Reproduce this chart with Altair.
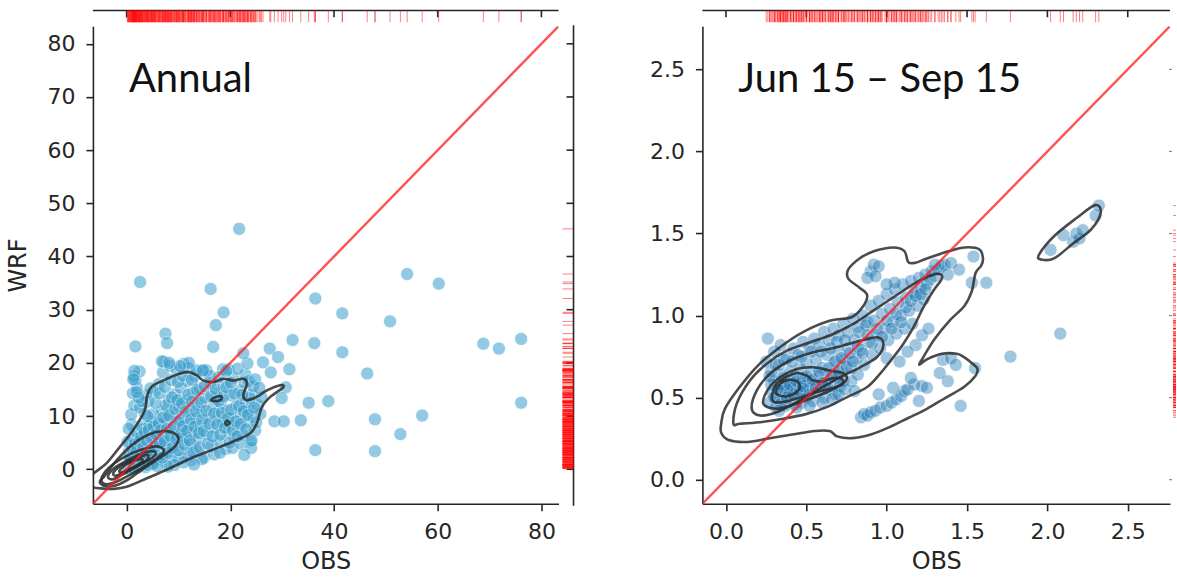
import altair as alt
import pandas as pd

# ---------------- data ----------------
annual_points = [
    (0.1,0.2),(0.3,0.8),(0.4,0.1),(0.6,1.5),(0.7,0.6),(0.9,0.3),(1.0,1.1),(1.1,2.2),(1.2,0.4),(1.4,1.8),
    (1.5,0.9),(1.6,2.9),(1.8,1.3),(1.9,0.5),(2.0,2.1),(2.1,3.6),(2.3,1.0),(2.4,2.7),(2.6,1.6),(2.7,4.3),
    (2.9,0.7),(3.0,3.2),(3.1,2.0),(3.3,1.2),(3.4,4.9),(3.6,2.6),(3.7,0.4),(3.9,3.8),(4.0,1.7),(4.2,5.6),
    (4.3,2.9),(4.5,0.9),(4.7,4.4),(4.8,2.2),(5.0,6.3),(5.1,3.3),(5.3,1.4),(5.5,5.1),(5.6,2.7),(5.8,7.0),
    (6.0,3.9),(6.1,1.9),(0.5,3.4),(0.8,4.6),(1.3,5.8),(1.7,7.1),(0.2,5.2),(1.0,8.4),(2.2,6.4),(2.8,8.0),
    (6.3,5.8),(6.5,8.9),(6.7,2.8),(6.9,11.0),(7.1,4.6),(7.3,6.9),(7.5,1.4),(7.7,9.4),(7.9,3.5),(8.1,12.8),
    (8.3,5.6),(8.5,7.8),(8.7,2.3),(8.9,10.6),(9.1,4.4),(9.3,14.1),(9.5,6.7),(9.7,8.9),(9.9,1.9),(10.1,11.9),
    (10.3,5.2),(10.5,15.3),(10.7,7.4),(10.9,3.1),(11.1,9.8),(11.3,13.0),(11.5,6.0),(11.7,16.6),(11.9,2.6),(12.1,8.5),
    (12.3,11.2),(12.5,4.7),(12.7,14.4),(12.9,7.0),(13.1,17.5),(13.3,9.6),(13.5,3.6),(13.7,12.2),(13.9,5.9),(14.1,15.2),
    (14.3,8.2),(14.6,10.8),(14.9,2.2),(15.2,13.5),(15.5,6.6),(15.8,9.3),(16.1,16.2),(16.4,4.4),(16.7,11.7),(17.0,7.7),
    (17.3,14.3),(17.6,10.0),(17.9,5.3),(18.2,12.5),(18.5,8.8),(18.8,15.6),(19.1,3.8),(19.4,11.0),(19.7,6.9),(20.0,13.9),
    (20.3,9.5),(20.6,17.2),(20.9,5.8),(21.2,12.0),(21.5,8.0),(21.8,14.8),(22.1,10.4),(22.4,6.5),(22.7,16.3),(23.0,12.6),
    (23.3,8.9),(23.6,11.3),(23.9,5.2),(24.2,14.0),(24.5,9.8),(24.8,7.3),(25.3,12.1),(25.8,10.4),(0.9,10.3),(1.5,12.0),
    (1.2,14.3),(2.0,15.3),(1.7,16.8),(2.5,18.4),(1.4,17.5),(3.5,10.5),(4.1,12.7),(4.9,9.0),(5.4,14.6),(6.2,16.0),
    (7.0,18.2),(7.2,20.2),(6.8,20.3),(8.4,19.5),(9.6,18.8),(11.0,19.8),(12.0,19.0),(14.8,18.5),(15.4,18.6),(18.6,18.8),
    (22.9,17.8),(23.5,16.6),(23.8,13.4),(24.4,15.6),(3.2,7.6),(4.4,8.2),(5.2,10.4),(0.4,7.6),(2.6,11.6),(3.8,13.9),
    (12.4,1.7),(11.0,1.3),(9.2,0.8),(8.0,0.5),(14.5,1.9),(16.9,2.8),(18.0,3.1),(20.4,4.0),(22.0,4.8),(24.0,4.0),
    (13.0,0.9),
    (0.5,2.4),(0.8,1.9),(1.1,3.9),(1.3,0.2),(1.6,4.8),(1.9,3.3),(2.2,0.3),(2.4,5.2),(2.6,2.3),(2.8,6.1),
    (3.0,1.5),(3.2,4.1),(3.5,6.9),(3.7,3.0),(3.9,5.4),(4.1,0.8),(4.3,7.4),(4.6,3.6),(4.8,5.9),(5.0,1.0),
    (5.2,8.1),(5.4,4.2),(5.7,6.6),(5.9,0.6),(6.2,8.6),(6.4,4.9),(6.6,7.3),(6.9,2.2),(7.1,9.7),(7.4,5.3),
    (7.6,12.0),(7.8,7.6),(8.0,3.1),(8.2,10.1),(8.5,6.2),(8.7,13.5),(8.9,4.0),(9.1,8.0),(9.4,11.3),(9.6,5.7),
    (9.8,13.0),(10.0,3.6),(10.2,9.2),(10.5,6.5),(10.7,12.4),(10.9,8.1),(11.2,4.6),(11.4,10.9),(11.7,7.2),(11.9,14.0),
    (12.2,5.4),(12.4,9.4),(12.6,12.7),(12.9,3.2),(13.1,8.0),(13.4,10.9),(13.6,14.9),(13.9,6.8),(14.1,4.1),(14.4,12.6),
    (14.6,9.3),(14.9,7.2),(15.1,15.6),(15.4,11.0),(15.7,4.8),(16.0,8.6),(16.3,13.7),(16.6,6.2),(16.9,10.5),(17.2,15.1),
    (17.5,8.4),(17.8,12.8),(18.1,6.5),(18.4,10.6),(18.7,13.7),(19.0,7.8),(19.3,15.4),(19.6,9.6),(19.9,5.0),(20.2,11.2),
    (20.5,7.3),(20.8,14.2),(21.1,9.0),(21.4,6.2),(21.7,11.9),(22.0,8.5),(22.3,14.0),(22.6,10.9),(23.1,7.5),(23.4,10.2),
    (24.6,11.6),(25.0,8.8),(26.0,13.5),(4.0,10.0),(3.0,12.8),(2.3,13.5),(4.6,15.2),(5.6,12.5),(6.4,14.3),(7.4,15.5),
    (8.6,16.8),(9.9,16.4),(10.8,17.6),(12.6,16.8),(13.5,18.6),(16.0,17.6),(17.7,17.3),(20.1,16.3),(19.6,18.8),(21.4,18.9),
    (23.3,19.9),(24.8,16.9),(25.6,15.3),
    (21.7,45.2),(2.6,35.2),(16.2,33.9),(18.7,29.5),(17.2,27.1),(7.5,25.5),(7.8,23.7),(1.7,23.1),(16.7,23.0),(36.4,32.1),
    (54.1,36.7),(60.2,34.9),(41.6,29.3),(50.8,27.8),(32.0,24.3),(36.2,23.7),(27.6,22.7),(41.6,22.0),(68.8,23.6),(71.8,22.7),
    (76.1,24.5),(76.1,12.5),(46.4,18.0),(57.0,10.1),(52.8,6.6),(47.9,9.4),(47.9,3.4),(36.4,3.6),(38.9,12.8),(35.1,12.5),
    (33.6,9.2),(31.4,18.8),(29.2,21.1),(26.3,20.1),(27.8,18.2),(30.7,15.4),(29.9,13.4),(28.5,9.0),(30.3,9.0),(22.7,2.7),
    (24.1,5.4),(22.5,21.8),(1.5,18.5),(1.3,16.9),(1.9,14.5),(14.7,18.6),(19.2,18.5),(12.0,20.0),(10.3,19.4),(8.2,20.0),
]

summer_points = [
    (0.27,0.47),(0.29,0.53),(0.30,0.60),(0.31,0.44),(0.32,0.50),(0.33,0.57),(0.34,0.64),(0.35,0.48),(0.35,0.54),(0.36,0.58),
    (0.37,0.45),(0.37,0.52),(0.38,0.61),(0.39,0.56),(0.40,0.49),(0.40,0.66),(0.41,0.53),(0.42,0.59),(0.43,0.46),(0.43,0.63),
    (0.44,0.55),(0.45,0.51),(0.46,0.68),(0.46,0.58),(0.47,0.47),(0.48,0.62),(0.49,0.54),(0.50,0.71),(0.50,0.50),(0.51,0.60),
    (0.52,0.56),(0.53,0.66),(0.54,0.48),(0.55,0.58),(0.56,0.73),(0.57,0.53),(0.58,0.63),(0.59,0.57),(0.60,0.68),(0.61,0.50),
    (0.62,0.61),(0.63,0.76),(0.64,0.55),(0.65,0.64),(0.66,0.59),(0.67,0.71),(0.68,0.52),(0.69,0.62),(0.70,0.78),(0.71,0.57),
    (0.72,0.66),(0.73,0.60),(0.74,0.73),(0.36,0.56),(0.38,0.55),(0.34,0.58),
    (0.26,0.86),(0.30,0.78),(0.34,0.82),(0.38,0.74),(0.42,0.80),(0.45,0.76),(0.48,0.84),(0.52,0.80),(0.55,0.86),(0.58,0.82),
    (0.61,0.90),(0.64,0.85),(0.67,0.92),(0.70,0.88),(0.73,0.95),(0.76,0.90),(0.79,0.98),(0.82,0.93),(0.85,1.00),(0.88,0.96),
    (0.33,0.70),(0.28,0.66),(0.25,0.72),
    (0.76,0.80),(0.78,0.68),(0.80,0.85),(0.81,0.74),(0.83,0.90),(0.84,0.79),(0.86,0.70),(0.87,0.94),(0.89,0.84),(0.90,1.06),
    (0.91,0.76),(0.92,0.97),(0.94,0.88),(0.95,1.09),(0.96,0.80),(0.97,1.01),(0.99,0.92),(1.00,1.13),(1.01,0.85),(1.02,1.04),
    (1.04,0.96),(1.05,1.16),(1.06,0.89),(1.07,1.08),(1.09,1.00),(1.10,1.19),(1.11,0.92),(1.12,1.11),(1.14,1.03),(1.15,1.21),
    (1.16,0.95),(1.17,1.14),(1.19,1.06),(1.20,1.23),(1.21,1.17),(1.23,1.10),(1.24,1.25),(1.25,1.19),(1.27,1.22),(1.28,1.27),
    (1.30,1.24),(1.32,1.28),(1.34,1.30),(1.36,1.31),(1.38,1.25),(1.18,0.82),(1.22,0.88),(1.13,0.78),(1.08,0.72),(1.26,0.92),
    (1.00,0.74),
    (0.30,0.50),(0.32,0.55),(0.34,0.46),(0.36,0.62),(0.38,0.50),(0.40,0.58),(0.42,0.52),(0.44,0.60),(0.46,0.54),(0.48,0.57),
    (0.50,0.63),(0.52,0.52),(0.54,0.61),(0.56,0.56),(0.58,0.66),(0.60,0.59),(0.62,0.56),(0.64,0.68),(0.66,0.63),(0.68,0.72),
    (0.70,0.66),(0.72,0.74),(0.75,0.69),(0.77,0.77),(0.79,0.72),(0.82,0.81),(0.85,0.77),(0.88,0.88),(0.91,0.83),(0.94,0.92),
    (0.97,0.87),(1.00,0.97),(1.03,0.92),(1.06,1.01),(1.09,0.96),(1.12,1.05),(1.15,1.09),(1.18,1.12),(1.21,1.13),(1.24,1.16),
    (0.31,0.70),(0.36,0.73),(0.41,0.72),(0.47,0.75),(0.53,0.78),(0.59,0.78),(0.65,0.80),(0.69,0.84),(0.74,0.85),(0.28,0.58),
    (0.27,0.63),(0.33,0.42),(0.44,0.44),(0.52,0.45),(0.60,0.47),(0.66,0.49),(0.70,0.52),(0.74,0.55),(0.78,0.60),(0.82,0.64),
    (0.80,0.54),
    (0.90,1.27),(0.92,1.31),(0.95,1.30),(0.88,1.23),(0.93,1.24),(1.05,1.20),(1.00,1.19),
    (0.84,0.38),(0.86,0.40),(0.88,0.39),(0.90,0.41),(0.93,0.42),(0.96,0.44),(1.00,0.45),(1.03,0.47),(1.06,0.49),(1.09,0.51),
    (1.11,0.54),(1.13,0.55),(1.17,0.58),(1.20,0.48),(1.22,0.57),(1.25,0.56),(0.95,0.52),(1.04,0.56),(1.15,0.62),
    (1.35,0.73),(1.40,0.74),(1.38,0.60),(1.33,0.65),(1.46,0.45),(1.55,0.68),(1.43,0.70),(1.53,1.20),(1.62,1.20),(1.54,1.36),
    (1.77,0.75),(2.08,0.89),(1.40,1.32),(1.45,1.28),(1.30,1.31),
    (2.02,1.40),(2.10,1.49),(2.16,1.45),(2.18,1.50),(2.20,1.47),(2.30,1.61),(2.32,1.67),(2.22,1.52),
]

# density contour lines (OBS, WRF)
annual_contours = {
    "a1": [(-7.5,-2.0),(-6.4,-0.8),(-3.9,1.1),(-1.3,4.2),(1.3,7.4),(3.5,11.1),(3.9,13.6),(4.8,15.5),(7.1,16.7),
           (10.3,18.0),(11.9,18.3),(13.5,17.7),(14.8,16.7),(16.7,16.4),(18.6,17.0),(20.6,16.7),(22.5,17.0),(23.2,16.1),
           (22.5,13.9),(23.2,13.0),(25.1,13.6),(27.0,14.8),(29.6,15.8),(30.2,15.4),(27.7,13.6),(26.1,11.7),(25.1,8.6),
           (23.8,6.7),(21.2,5.5),(18.0,4.2),(14.8,3.0),(11.6,1.7),(7.7,-0.1),(3.9,-1.7),(0.0,-3.3),(-2.6,-3.7),(-5.0,-3.6),(-7.0,-3.2)],
    "a2": [(-5.2,-2.4),(-4.2,-1.2),(-1.9,1.7),(0.6,4.2),(3.9,6.4),(7.1,7.2),(9.3,6.7),(10.0,5.5),(9.0,4.0),(6.5,2.2),
           (3.5,0.3),(0.5,-1.8),(-2.0,-3.0),(-4.0,-3.2)],
    "a3": [(-4.8,-1.6),(-3.4,0.3),(-0.8,2.1),(2.6,3.6),(5.8,4.3),(7.2,3.5),(5.9,2.1),(3.2,0.4),(0.0,-1.4),(-2.6,-2.6),(-4.4,-2.7)],
    "a4": [(-3.6,-1.3),(-2.4,0.2),(0.0,1.6),(2.8,2.9),(5.0,3.4),(5.6,2.8),(4.2,1.7),(1.6,0.3),(-0.8,-1.0),(-2.8,-1.9)],
    "a5": [(-2.6,-0.8),(-1.4,0.5),(0.8,1.6),(3.0,2.5),(4.2,2.6),(3.8,1.7),(1.8,0.6),(-0.4,-0.5),(-2.0,-1.2)],
    "a6": [(-1.4,-0.3),(-0.4,0.7),(1.2,1.5),(2.8,2.0),(3.0,1.4),(1.8,0.6),(0.0,-0.2),(-1.0,-0.6)],
    "a7": [(16.3,13.0),(17.2,13.6),(18.3,13.7),(18.1,13.0),(17.0,12.8)],
    "a8": [(19.0,8.7),(19.4,9.1),(19.9,8.7),(19.4,8.3)],
}

summer_contours = {
    "s1": [(-0.030,0.342),(-0.007,0.432),(0.086,0.566),(0.203,0.700),(0.342,0.812),(0.482,0.901),(0.645,0.968),
           (0.784,0.991),(0.854,1.058),(0.878,1.125),(0.831,1.170),(0.761,1.225),(0.761,1.281),(0.831,1.348),
           (0.924,1.393),(1.040,1.415),(1.110,1.393),(1.134,1.326),(1.180,1.322),(1.250,1.348),(1.390,1.393),
           (1.483,1.415),(1.576,1.404),(1.599,1.348),(1.588,1.304),(1.553,1.259),(1.529,1.147),(1.483,1.058),
           (1.390,0.968),(1.297,0.856),(1.227,0.745),(1.203,0.700),(1.250,0.733),(1.343,0.767),(1.436,0.767),
           (1.483,0.745),(1.529,0.711),(1.564,0.678),(1.553,0.633),(1.483,0.566),(1.366,0.499),(1.250,0.432),
           (1.134,0.376),(1.017,0.320),(0.901,0.275),(0.784,0.253),(0.691,0.264),(0.645,0.297),(0.552,0.297),
           (0.412,0.275),(0.272,0.253),(0.133,0.230),(0.016,0.242),(-0.030,0.286)],
    "s2": [(0.046,0.341),(0.066,0.462),(0.149,0.604),(0.253,0.706),(0.378,0.786),(0.523,0.837),(0.668,0.888),
           (0.792,0.949),(0.917,1.030),(1.041,1.111),(1.166,1.192),(1.269,1.243),(1.332,1.253),(1.342,1.223),
           (1.290,1.151),(1.228,1.050),(1.166,0.928),(1.103,0.827),(1.041,0.746),(0.958,0.645),(0.876,0.563),
           (0.751,0.502),(0.627,0.442),(0.502,0.401),(0.357,0.371),(0.212,0.350),(0.087,0.341)],
    "s3": [(0.160,0.432),(0.191,0.543),(0.274,0.645),(0.398,0.726),(0.543,0.776),(0.689,0.807),(0.834,0.847),
           (0.948,0.867),(0.979,0.817),(0.938,0.746),(0.834,0.685),(0.709,0.624),(0.564,0.543),(0.440,0.472),
           (0.315,0.411),(0.212,0.391)],
    "s4": [(0.232,0.462),(0.263,0.553),(0.336,0.624),(0.440,0.675),(0.543,0.685),(0.647,0.665),(0.730,0.649),
           (0.751,0.614),(0.709,0.574),(0.627,0.533),(0.523,0.493),(0.419,0.458),(0.315,0.432)],
    "s5": [(0.284,0.502),(0.315,0.584),(0.378,0.628),(0.440,0.649),(0.502,0.634),(0.543,0.604),(0.606,0.600),
           (0.668,0.620),(0.720,0.614),(0.726,0.584),(0.668,0.560),(0.585,0.539),(0.481,0.507),(0.378,0.478),(0.305,0.472)],
    "s6": [(0.311,0.527),(0.336,0.584),(0.388,0.608),(0.440,0.600),(0.460,0.563),(0.429,0.527),(0.367,0.507)],
    "s7": [(1.948,1.371),(2.041,1.483),(2.181,1.594),(2.297,1.673),(2.332,1.628),(2.274,1.527),(2.158,1.438),
           (2.041,1.348),(1.960,1.342)],
}

annual_xticks = [0, 20, 40, 60, 80]
annual_yticks = [0, 10, 20, 30, 40, 50, 60, 70, 80]
summer_ticks = [0.0, 0.5, 1.0, 1.5, 2.0, 2.5]
annual_domain = [-6.5, 83.3]
summer_domain = [-0.147, 2.763]

W1, W2, H = 466, 468, 478
INK = "#262626"
FONT = "DejaVu Sans"


def points_df(pts):
    return pd.DataFrame({"obs": [p[0] for p in pts], "wrf": [p[1] for p in pts]})


def contours_df(cs):
    rows = []
    for name, pts in cs.items():
        for i, (x, y) in enumerate(pts):
            rows.append({"c": name, "i": i, "x": x, "y": y})
    return pd.DataFrame(rows)


def panel(pts, cs, dom, xticks, yticks, fmt, label, color, opac, size, width, ytitle, full_right_strip):
    df = points_df(pts)
    xs = alt.Scale(domain=dom, nice=False, zero=False)
    ys = alt.Scale(domain=dom, nice=False, zero=False)
    xaxis = alt.Axis(values=xticks, format=fmt, title="OBS", grid=False)
    yaxis = alt.Axis(values=yticks, format=fmt, title=ytitle if ytitle else "", grid=False)
    one = pd.DataFrame({"a": [0]})

    def X(f):
        return alt.X(f, scale=xs, axis=xaxis)

    def Y(f):
        return alt.Y(f, scale=ys, axis=yaxis)

    scatter = alt.Chart(df).mark_circle(
        size=size, color=color, opacity=opac, stroke="white", strokeWidth=0.8
    ).encode(x=X("obs:Q"), y=Y("wrf:Q"))

    cont = alt.Chart(contours_df(cs)).mark_line(
        color="#2b2b2b", strokeWidth=2.6, opacity=0.85, interpolate="cardinal-closed", clip=True
    ).encode(x=X("x:Q"), y=Y("y:Q"), detail="c:N", order="i:Q")

    diag = alt.Chart(pd.DataFrame({"v": dom})).mark_line(
        color="#ff1a1a", strokeWidth=2.4, opacity=0.75, clip=True
    ).encode(x=X("v:Q"), y=Y("v:Q"))

    xt_df = pd.DataFrame({"t": xticks})
    yt_df = pd.DataFrame({"t": yticks})
    top_line = alt.Chart(one).mark_rule(color=INK, strokeWidth=1.6).encode(
        x=alt.value(0), x2=alt.value(width), y=alt.value(-15.7))
    top_ticks = alt.Chart(xt_df).mark_rule(color=INK, strokeWidth=1.6).encode(
        x=X("t:Q"), y=alt.value(-15.7), y2=alt.value(-9))
    top_rug = alt.Chart(df).mark_rule(color="#ff0000", strokeWidth=1, opacity=0.5).encode(
        x=X("obs:Q"), y=alt.value(-15.7), y2=alt.value(-4))

    layers = [scatter, cont, diag, top_line, top_ticks, top_rug]
    if full_right_strip:
        right_line = alt.Chart(one).mark_rule(color=INK, strokeWidth=1.6).encode(
            x=alt.value(width + 15), y=alt.value(-1), y2=alt.value(H + 2))
        right_ticks = alt.Chart(yt_df).mark_rule(color=INK, strokeWidth=1.6).encode(
            y=Y("t:Q"), x=alt.value(width + 8), x2=alt.value(width + 15))
        right_rug = alt.Chart(df).mark_rule(color="#ff0000", strokeWidth=1, opacity=0.5).encode(
            y=Y("wrf:Q"), x=alt.value(width + 4), x2=alt.value(width + 15))
        layers += [right_line, right_ticks, right_rug]
    else:
        right_ticks = alt.Chart(yt_df).mark_rule(color="#888888", strokeWidth=1.2).encode(
            y=Y("t:Q"), x=alt.value(width - 1), x2=alt.value(width + 2))
        right_rug = alt.Chart(df).mark_rule(color="#ff0000", strokeWidth=1, opacity=0.5).encode(
            y=Y("wrf:Q"), x=alt.value(width + 3), x2=alt.value(width + 6))
        layers += [right_ticks, right_rug]

    title = alt.Chart(one).mark_text(
        text=label, align="left", baseline="alphabetic", font="Lato", fontSize=40, color="#111111"
    ).encode(x=alt.value(36), y=alt.value(66))
    layers.append(title)

    return alt.layer(*layers).properties(width=width, height=H)


left = panel(annual_points, annual_contours, annual_domain, annual_xticks, annual_yticks, "d", "Annual",
             "#3ca0cd", 0.55, 175, W1, "WRF", True)
right = panel(summer_points, summer_contours, summer_domain, summer_ticks, summer_ticks, ".1f",
              "Jun 15 \u2013 Sep 15", "#1f77b4", 0.42, 175, W2, None, False)

chart = alt.hconcat(left, right, spacing=144, bounds="flush").properties(
    padding={"left": 7, "top": 9, "right": 0, "bottom": 0}
).configure_view(stroke=None).configure_axis(
    labelFont=FONT, labelFontSize=22, labelColor=INK, labelPadding=11,
    titleFont=FONT, titleFontSize=24, titleFontWeight="normal", titleColor=INK,
    tickSize=7, tickWidth=1.6, tickColor=INK, domainColor=INK, domainWidth=1.6,
).configure_axisX(titlePadding=7).configure_axisY(titlePadding=16)

chart.save("out.html", embed_options={"renderer": "svg", "actions": False})
